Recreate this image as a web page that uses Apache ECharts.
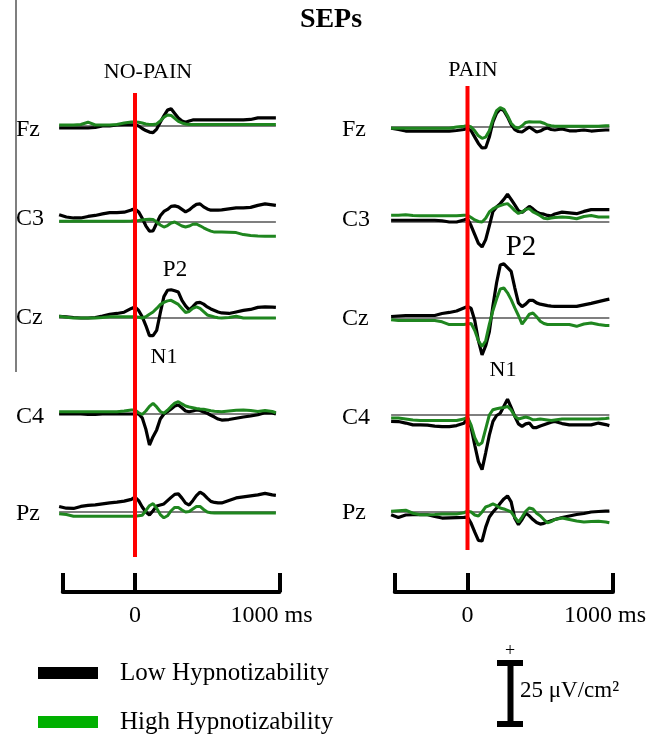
<!DOCTYPE html>
<html>
<head>
<meta charset="utf-8">
<script src="https://cdn.jsdelivr.net/npm/echarts@6/dist/echarts.min.js"></script>
<style>
  html, body { margin: 0; padding: 0; background: #fff; }
  #chart { width: 661px; height: 735px; }
</style>
</head>
<body>
<div id="chart"></div>
<script>
// sample times (ms), shared by every trace
const times = [-525, -475, -425, -375, -325, -275, -225, -175, -125, -75, -25,
  0, 25, 50, 75, 100, 125, 150, 175, 200, 225, 250, 275, 300, 325, 350,
  375, 400, 425, 450, 475, 500, 525, 550, 575, 600,
  650, 700, 750, 800, 850, 900, 950, 975];
const channels = ['Fz', 'C3', 'Cz', 'C4', 'Pz'];
const timeTicks = [-500, 0, 1000];
const timeLabels = [0, 1000];

// NO-PAIN, values in uV/cm2
const noFzLow = [-0.8, -0.8, -0.8, -0.8, -0.8, -0.6, 0, 0, 0.4, 0.5, 0.5, 0.5, 0, -1, -1.8, -2.4, -2.6, -1.2, 1.5, 4, 6.3, 6.8, 5, 3.2, 2, 1.5, 2, 2.4, 2.4, 2.4, 2.4, 2.4, 2.4, 2.4, 2.4, 2.4, 2.4, 2.4, 2.4, 2.6, 3.2, 3.2, 3.2, 3.2];
const noFzHigh = [0.4, 0.4, 0.4, 0.6, 1.5, 0.4, 0.4, 0.4, 0.6, 1.2, 1.6, 1.6, 1.5, 1.2, 0.8, 0.6, 0.6, 0.8, 2, 3.5, 4.4, 4.2, 3, 1.8, 1.2, 0.8, 0.6, 0.6, 0.6, 0.6, 0.6, 0.6, 0.6, 0.6, 0.6, 0.6, 0.6, 0.6, 0.6, 0.6, 0.6, 0.6, 0.6, 0.6];
const noC3Low = [2.9, 2.0, 1.6, 1.6, 2.2, 2.6, 3.2, 3.7, 3.7, 3.9, 4.8, 5.2, 4.0, 1.5, -1.5, -3.6, -3.5, -0.5, 2.5, 4.2, 5, 6.2, 6.4, 6, 5, 4, 4.8, 6, 7, 7.2, 6, 5.2, 4.7, 4.7, 4.7, 4.8, 5.2, 5.6, 5.6, 5.8, 6.6, 7.2, 6.8, 6.6];
const noC3High = [0.3, 0.3, 0.3, 0.3, 0.3, 0.3, 0.3, 0.3, 0.3, 0.3, 0.4, 0.5, 0.6, 0.8, 1, 1.1, 1, 0, -1.2, -2, -1.4, -0.4, 0, -0.8, -1.6, -2, -1.6, -0.9, -0.8, -1.5, -2.3, -3, -3.6, -4, -4, -4, -4.1, -4.2, -5, -5.4, -5.6, -5.7, -5.7, -5.7];
const noCzLow = [0.7, 0.5, 0.2, 0, 0, 0.2, 0.8, 1.5, 1.8, 2.3, 3.8, 4.4, 3, 0.5, -3, -7, -7, -4.9, 2, 8.5, 11, 11.2, 10.8, 10.3, 7, 4.8, 3.2, 4.5, 6, 6.2, 5.5, 4.4, 3.6, 3, 2.4, 2, 1.8, 2.4, 3, 3.4, 4.2, 4.4, 4.3, 4.2];
const noCzHigh = [0.7, 0.3, 0, 0, 0, 0, 0.2, 0.5, 0.5, 0.5, 0.5, 0.5, 0.3, 0, 0.5, 1.5, 2.4, 3.8, 5.3, 6.2, 6.8, 7, 6.2, 5.4, 3.8, 2.2, 2.6, 3.8, 4.4, 3.8, 2.5, 1.2, 0.8, 0.4, 0.1, 0, 0.2, 0.7, 0, 0, 0, 0, 0, 0];
const noC4Low = [0, 0, 0, 0, -0.2, -0.2, 0, 0, 0, 0, 0, 0, 0, -1.5, -6, -12.3, -9, -6.3, -2, 0, 0.9, 2, 3.2, 3.6, 2.5, 1.2, 0.9, 1.2, 1.6, 1.4, 0.8, 0.3, -0.5, -1.2, -2, -2.4, -2.2, -1.7, -1.2, -0.8, -0.3, 0.5, 0.4, 0];
const noC4High = [0.9, 0.9, 0.9, 0.9, 0.9, 0.9, 0.9, 0.9, 0.9, 1.2, 1.6, 1.6, 0.5, -0.2, 1.2, 3, 4.2, 2.8, 1, 0.3, 1.5, 3, 4.3, 4.9, 4, 3.2, 2.8, 2.5, 2.2, 2, 1.9, 1.6, 1.3, 1.1, 1, 0.9, 1.2, 1.5, 1.6, 1.4, 1, 1.4, 1, 0.5];
const noPzLow = [2.2, 1.5, 1.4, 2.2, 2.6, 2.8, 3.2, 3.6, 3.9, 4.3, 5, 5.9, 4.5, 2, 0, -1.2, 0.5, 2.4, 2.8, 3.2, 4.5, 5.8, 7, 7.2, 5.5, 3.5, 2.8, 4.5, 6.5, 7.9, 7, 5.5, 4.2, 3.8, 3.6, 3.6, 4.6, 5.6, 6, 6.4, 6.8, 7.4, 6.8, 6.6];
const noPzHigh = [-0.7, -1, -1.7, -1.7, -1.7, -1.7, -1.7, -1.7, -1.7, -1.7, -1.7, -1.7, -1.5, -1.3, 0.5, 2.5, 3.3, 1.5, -1, -2.3, -1.5, 0.5, 1.8, 1.8, 0.8, 0, 0.2, 1.2, 2.2, 2.2, 1, 0, -0.3, -0.4, -0.4, -0.4, -0.4, -0.4, -0.4, -0.4, -0.4, -0.4, -0.4, -0.4];

// PAIN
const painFzLow = [-0.5, -1, -1.6, -1.6, -1.6, -1.6, -1.6, -1.6, -1.6, -1.4, -1, -0.5, -1.5, -4, -6.5, -8.3, -8.2, -4, 2, 5.5, 7.2, 6.5, 4, 1, -1, -1.8, -2, -1, 0, -1, -2, -1.6, -0.8, -0.4, -1, -1.2, -0.8, -1.5, -1.5, -1.2, -1.6, -1.4, -1.2, -1.2];
const painFzHigh = [-0.5, -0.5, -0.5, -0.5, -0.5, -0.5, -0.5, -0.5, -0.5, 0, 0.3, 0.5, 0, -1.5, -3.5, -4.5, -4, -1.5, 3, 6.5, 7.7, 7, 4.5, 1.5, 0, -0.5, 0.5, 1.8, 2.1, 2, 2, 2, 1.5, 0.8, 0.5, 0.3, 0.3, 0.3, 0.3, 0.3, 0.3, 0.3, 0.5, 0.5];
const painC3Low = [0.7, 0.7, 0.7, 0.7, 0.7, 0.7, 0.7, 0.5, 0, 0, 0.8, 1.3, -1.5, -5, -8.5, -9.9, -7, -1.5, 4.2, 6, 7.3, 9, 11, 9, 6.8, 4.5, 3.8, 5, 6.2, 5.2, 4, 3.3, 3.1, 2.6, 2.4, 3.2, 3.9, 3.6, 3.3, 4.2, 4.9, 4.9, 4.9, 4.9];
const painC3High = [2.7, 2.7, 2.9, 2.6, 2.5, 2.5, 2.5, 2.5, 2.5, 2.5, 2.7, 2.7, 1.8, 0.8, 0.2, 0, 1.5, 4, 5.2, 6, 6.5, 7, 7.3, 6, 4.5, 3.4, 4, 5, 5.3, 4, 3.3, 2.5, 1.5, 1.3, 1.6, 1.8, 2, 1.8, 1.3, 2.2, 2.6, 2, 2, 2];
const painCzLow = [0.6, 0.8, 1, 1, 1, 1, 1, 1.8, 2.2, 2.8, 4, 4.6, 3.8, -1, -9, -14.6, -11, -5.5, 5, 14, 21, 21.5, 20, 18.5, 12, 6, 4.5, 5.5, 7, 7, 6, 5.5, 5.2, 4.9, 4.7, 4.6, 4.6, 4.6, 4.6, 5.2, 5.8, 6.5, 7.2, 7.5];
const painCzHigh = [-0.7, -1, -1, -1, -1, -1, -1, -1.5, -2.6, -2.6, -2.6, -2.4, -2.2, -5, -9, -11.3, -9, -2.5, 3, 7.5, 11.5, 11.9, 10, 7.3, 4, 1, -2.4, -0.5, 1.5, 2, 0.5, -1.3, -2.2, -2.6, -2.6, -2.6, -2.6, -2.6, -3.3, -2.4, -2, -2.6, -3, -3];
const painC4Low = [-2.5, -2.6, -3.2, -3.9, -3.9, -4, -4.4, -4.6, -4.6, -4.2, -3.3, -1.2, -5, -12, -18.5, -21.7, -15, -8, -2.5, -0.2, 0.7, 3.5, 6.3, 3, -0.5, -3.5, -4.5, -3.5, -3.2, -5, -5, -4.4, -3.9, -3.4, -2.9, -2.6, -3.4, -3.9, -3.9, -3.9, -3.9, -3.2, -3.8, -4.2];
const painC4High = [-1.2, -1.2, -1.6, -2, -2.2, -2.2, -2.2, -2.2, -2.2, -2.2, -1.6, -0.8, -4, -9, -12, -11, -5.5, 0, 2.1, 2.5, 2.8, 3, 3.4, 2, -0.5, -1.6, -1.2, -0.8, -1.2, -1.9, -1.8, -1.6, -1.8, -2, -2.2, -2, -1.6, -1.6, -1.6, -1.6, -1.6, -1.6, -1.4, -1.2];
const painPzLow = [-1.1, -2.2, -1.2, -1.1, -1.1, -1.1, -1.8, -2.4, -2.3, -2.2, -2.1, -2, -4.5, -8, -11.3, -11.5, -6, -2, 0, 1.6, 3.5, 5.2, 6.4, 4, -2.5, -5, -3, -0.5, -1.5, -3, -4.2, -4.8, -4.5, -4, -3.5, -3, -2.2, -1.6, -1, -0.6, 0, 0.2, 0.4, 0.4];
const painPzHigh = [0.3, 0.5, 0.7, -0.5, -1.1, -1.1, -1, -0.8, -0.8, -0.8, -0.3, 0.3, 0, -1.2, -1.6, 0, 2, 2.5, 3.2, 2.5, 1.6, 1.2, 0.6, 0, -2, -4, -2, 0.3, 1.6, 1.2, -0.5, -1.5, -3, -4.3, -3.8, -3, -2.4, -3, -3.6, -4, -3.8, -3.7, -4, -4.3];

const SERIF = '"Liberation Serif", "Times New Roman", serif';
const LOW_NAME = 'Low Hypnotizability';
const HIGH_NAME = 'High Hypnotizability';
const TRACE_GREEN = '#1f861f';
const LEGEND_GREEN = '#00b000';

// layout of the two panels (pixels)
const panels = [
  {
    title: 'NO-PAIN', titleX: 148, titleY: 72,
    low: [noFzLow, noC3Low, noCzLow, noC4Low, noPzLow],
    high: [noFzHigh, noC3High, noCzHigh, noC4High, noPzHigh],
    zeroX: 135, pxPerMs: 0.1445,
    stimTop: 93, stimBottom: 557,
    baselines: [126, 222, 318, 414, 512],
    labelX: 16, labelY: [130, 219, 318, 417, 514],
    notes: [{ text: 'P2', x: 175, y: 270, size: 23 }, { text: 'N1', x: 164, y: 357, size: 22 }]
  },
  {
    title: 'PAIN', titleX: 473, titleY: 70,
    low: [painFzLow, painC3Low, painCzLow, painC4Low, painPzLow],
    high: [painFzHigh, painC3High, painCzHigh, painC4High, painPzHigh],
    zeroX: 467.5, pxPerMs: 0.1455,
    stimTop: 86, stimBottom: 550,
    baselines: [127, 222, 318, 415, 512],
    labelX: 342, labelY: [130, 220, 319, 418, 513],
    notes: [{ text: 'P2', x: 521, y: 247, size: 29 }, { text: 'N1', x: 503, y: 370, size: 22 }]
  }
];

const traceMin = -550, traceMax = 1000;
const yMin = -24, yMax = 24, pxPerUnit = 2.52;
const gridH = (yMax - yMin) * pxPerUnit;

const pairs = (vals) => times.map((t, i) => [t, vals[i]]);

const grid = [], xAxis = [], yAxis = [], series = [], graphic = [];
const hiddenY = (min, max) => ({ type: 'value', min, max, show: false });
const centered = { align: 'center', verticalAlign: 'middle', textAlign: 'center', textVerticalAlign: 'middle' };

panels.forEach((p) => {
  const left = p.zeroX + traceMin * p.pxPerMs;
  const width = (traceMax - traceMin) * p.pxPerMs;

  channels.forEach((ch, c) => {
    const idx = grid.length;
    grid.push({ left, width, top: p.baselines[c] - gridH / 2, height: gridH });
    xAxis.push({ type: 'value', gridIndex: idx, min: traceMin, max: traceMax, show: false });
    yAxis.push(Object.assign(hiddenY(yMin, yMax), { gridIndex: idx }));
    series.push({
      type: 'line', xAxisIndex: idx, yAxisIndex: idx, silent: true, symbol: 'none',
      data: [[times[0], 0], [times[times.length - 1], 0]],
      lineStyle: { color: '#000', width: 1.2 }
    });
    series.push({
      name: LOW_NAME, type: 'line', xAxisIndex: idx, yAxisIndex: idx, symbol: 'none', clip: false,
      data: pairs(p.low[c]), color: '#000', lineStyle: { color: '#000', width: 3.2 }
    });
    series.push({
      name: HIGH_NAME, type: 'line', xAxisIndex: idx, yAxisIndex: idx, symbol: 'none', clip: false,
      data: pairs(p.high[c]), color: TRACE_GREEN, lineStyle: { color: TRACE_GREEN, width: 3 }
    });
    graphic.push({
      type: 'text', x: p.labelX, y: p.labelY[c],
      style: { text: ch, font: '24px ' + SERIF, fill: '#000', align: 'left', verticalAlign: 'middle', textAlign: 'left', textVerticalAlign: 'middle' }
    });
  });

  // red stimulus line
  let idx = grid.length;
  grid.push({ left, width, top: p.stimTop, height: p.stimBottom - p.stimTop });
  xAxis.push({ type: 'value', gridIndex: idx, min: traceMin, max: traceMax, show: false });
  yAxis.push(Object.assign(hiddenY(0, 1), { gridIndex: idx }));
  series.push({
    type: 'line', xAxisIndex: idx, yAxisIndex: idx, silent: true, symbol: 'none', z: 5,
    data: [[0, 0], [0, 1]], lineStyle: { color: '#ff0000', width: 4 }
  });

  // time scale bar
  idx = grid.length;
  const tLeft = p.zeroX + timeTicks[0] * p.pxPerMs;
  grid.push({ left: tLeft, width: (timeTicks[2] - timeTicks[0]) * p.pxPerMs, top: 560, height: 32 });
  xAxis.push({
    type: 'value', gridIndex: idx, min: timeTicks[0], max: timeTicks[2], position: 'bottom',
    splitLine: { show: false },
    axisLine: { show: true, lineStyle: { color: '#000', width: 4 } },
    axisTick: { show: true, inside: true, length: 19, customValues: timeTicks, lineStyle: { color: '#000', width: 4 } },
    axisLabel: {
      show: true, customValues: timeLabels, margin: 12, color: '#000',
      fontFamily: SERIF, fontSize: 24,
      formatter: (v) => (v === 1000 ? '1000 ms{p| }' : String(v)),
      rich: { p: { width: 16 } }
    }
  });
  yAxis.push(Object.assign(hiddenY(0, 1), { gridIndex: idx }));

  graphic.push({
    type: 'text', x: p.titleX, y: p.titleY,
    style: Object.assign({ text: p.title, font: '22px ' + SERIF, fill: '#000' }, centered)
  });
  p.notes.forEach((n) => {
    graphic.push({
      type: 'text', x: n.x, y: n.y,
      style: Object.assign({ text: n.text, font: n.size + 'px ' + SERIF, fill: '#000' }, centered)
    });
  });
});

graphic.push(
  { type: 'text', x: 331, y: 20, style: Object.assign({ text: 'SEPs', font: 'bold 28px ' + SERIF, fill: '#000' }, centered) },
  { type: 'line', shape: { x1: 16, y1: 0, x2: 16, y2: 372 }, style: { stroke: '#555', lineWidth: 1.5 } },
  // amplitude scale bar
  { type: 'rect', shape: { x: 497, y: 660, width: 26, height: 6 }, style: { fill: '#000' } },
  { type: 'rect', shape: { x: 507.5, y: 660, width: 6, height: 67 }, style: { fill: '#000' } },
  { type: 'rect', shape: { x: 497, y: 721, width: 26, height: 6 }, style: { fill: '#000' } },
  { type: 'text', x: 510, y: 651, style: Object.assign({ text: '+', font: '18px ' + SERIF, fill: '#000' }, centered) },
  { type: 'text', x: 510, y: 739, style: Object.assign({ text: '\u2212', font: '18px ' + SERIF, fill: '#000' }, centered) },
  {
    type: 'text', x: 520, y: 691,
    style: { text: '25 \u03bcV/cm\u00b2', font: '23px ' + SERIF, fill: '#000', align: 'left', verticalAlign: 'middle', textAlign: 'left', textVerticalAlign: 'middle' }
  }
);

const chart = echarts.init(document.getElementById('chart'));
chart.setOption({
  animation: false,
  backgroundColor: '#fff',
  legend: {
    left: 38, top: 660, orient: 'vertical', padding: 0,
    width: 330, height: 110,
    itemWidth: 60, itemHeight: 12, itemGap: 23,
    selectedMode: false, icon: 'rect',
    itemStyle: { borderWidth: 0 },
    textStyle: { fontFamily: SERIF, fontSize: 25, color: '#000', lineHeight: 26, padding: [0, 0, 0, 17] },
    data: [
      { name: LOW_NAME, itemStyle: { color: '#000' } },
      { name: HIGH_NAME, itemStyle: { color: LEGEND_GREEN } }
    ]
  },
  grid, xAxis, yAxis, series, graphic
});
</script>
</body>
</html>
